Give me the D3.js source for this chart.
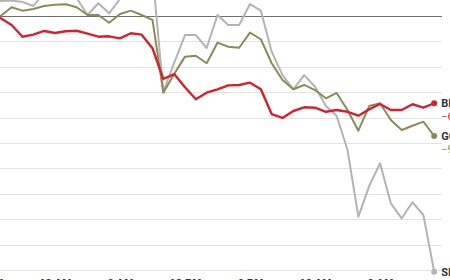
<!DOCTYPE html>
<html>
<head>
  <meta charset="utf-8">
  <title>Bitcoin, gold and silver</title>
  <style>
    body { margin: 0; background: #fff; }
    svg { display: block; font-family: Roboto, "Noto Sans", sans-serif; }
    .grid line { stroke: #e3e3e3; stroke-width: 1px; }
    .zero { stroke: #6f6f6f; stroke-width: 1px; }
    .series { fill: none; stroke-linejoin: round; stroke-linecap: round; }
    .axis text { font-size: 11px; font-weight: 700; fill: #333; }
    .axis path, .axis line { display: none; }
    .name { font-size: 11px; font-weight: 700; fill: #333; }
    .value { font-size: 11px; }
  </style>
</head>
<body>
  <svg id="chart" width="450" height="280"></svg>
  <script src="https://d3js.org/d3.v7.min.js"></script>
  <script>
    // hours relative to midnight, one point per hour
    const hours = d3.range(-5, 36);

    const bitcoin = [-0.18, -0.71, -1.63, -1.47, -1.18, -1.34, -1.20, -1.16, -1.39, -1.63,
      -1.60, -1.76, -1.36, -1.47, -2.54, -4.96, -4.57, -5.61, -6.56, -6.04,
      -5.77, -5.46, -5.43, -5.25, -5.77, -7.72, -8.03, -7.48, -7.19, -7.22,
      -7.54, -7.40, -7.54, -7.85, -7.35, -6.93, -7.40, -7.40, -6.95, -7.22, -6.87];

    const gold = [0.02, 0.69, 0.42, 0.55, 0.79, 0.89, 0.92, 0.69, 0.08, 0.08,
      -0.53, 0.16, 0.42, 0.08, -0.31, -6.04, -4.57, -3.20, -3.13, -3.72,
      -2.10, -2.42, -2.50, -1.31, -1.83, -3.72, -5.04, -5.77, -5.43, -5.83,
      -6.48, -6.06, -7.40, -9.03, -7.09, -6.87, -8.19, -8.98, -8.64, -8.32, -9.45];

    const silver = [1.18, 1.22, 1.10, 0.79, 1.81, 1.89, 1.89, 1.42, 0.08, 1.00,
      0.21, 1.34, 1.89, 2.44, 3.39, -5.96, -3.70, -1.50, -1.50, -2.52,
      0.08, -0.71, -0.71, 0.94, 0.43, -2.81, -4.65, -5.77, -4.65, -5.57,
      -7.09, -7.87, -10.55, -15.80, -13.39, -11.60, -14.75, -15.93, -14.67, -15.67, -20.13];

    const seriesNames = ["SILVER", "GOLD", "BITCOIN"];
    const seriesColors = ["#b3b3b3", "#8d8a57", "#d7202e"];
    const seriesValues = [silver, gold, bitcoin];

    const tickHours = [-6, 0, 6, 12, 18, 24, 30];
    const tickLabels = ["6 PM", "12 AM", "6 AM", "12 PM", "6 PM", "12 AM", "6 AM"];
    const gridValues = [0, -2, -4, -6, -8, -10, -12, -14, -16, -18, -20];

    const svg = d3.select("#chart");

    const x = d3.scaleLinear().domain([-5, 35]).range([0.8, 434.2]);
    const y = d3.scaleLinear().domain([0, -20]).range([16, 270]);

    // gridlines
    svg.append("g").attr("class", "grid")
      .selectAll("line")
      .data(gridValues.filter(d => d !== 0))
      .join("line")
      .attr("x1", -10).attr("x2", 442)
      .attr("y1", d => Math.round(y(d)) + 0.5)
      .attr("y2", d => Math.round(y(d)) + 0.5);

    svg.append("line").attr("class", "zero")
      .attr("x1", -10).attr("x2", 442)
      .attr("y1", Math.round(y(0)) + 0.5).attr("y2", Math.round(y(0)) + 0.5);

    // x axis
    svg.append("g").attr("class", "axis")
      .attr("transform", `translate(0,${y(-20)})`)
      .call(d3.axisBottom(x)
        .tickValues(tickHours)
        .tickFormat((d, i) => tickLabels[i])
        .tickSize(0)
        .tickPadding(9));

    const line = d3.line()
      .x((d, i) => x(hours[i]))
      .y(d => y(d));

    seriesValues.forEach((vals, k) => {
      svg.append("path")
        .attr("class", "series")
        .attr("d", line(vals))
        .attr("stroke", seriesColors[k])
        .attr("stroke-width", k === 2 ? 2.4 : 2);
    });

    // end dots and labels
    seriesValues.forEach((vals, k) => {
      const last = vals[vals.length - 1];
      const ex = x(hours[hours.length - 1]);
      const ey = y(last);
      svg.append("circle")
        .attr("cx", ex).attr("cy", ey).attr("r", 3)
        .attr("fill", seriesColors[k]);
      svg.append("text").attr("class", "name")
        .attr("x", ex + 7).attr("y", ey).attr("dy", "0.35em")
        .text(seriesNames[k]);
      svg.append("text").attr("class", "value")
        .attr("x", ex + 7).attr("y", ey + 13).attr("dy", "0.35em")
        .attr("fill", seriesColors[k])
        .text(d3.format(".1f")(last).replace("-", "\u2212") + "%");
    });
  </script>
</body>
</html>
